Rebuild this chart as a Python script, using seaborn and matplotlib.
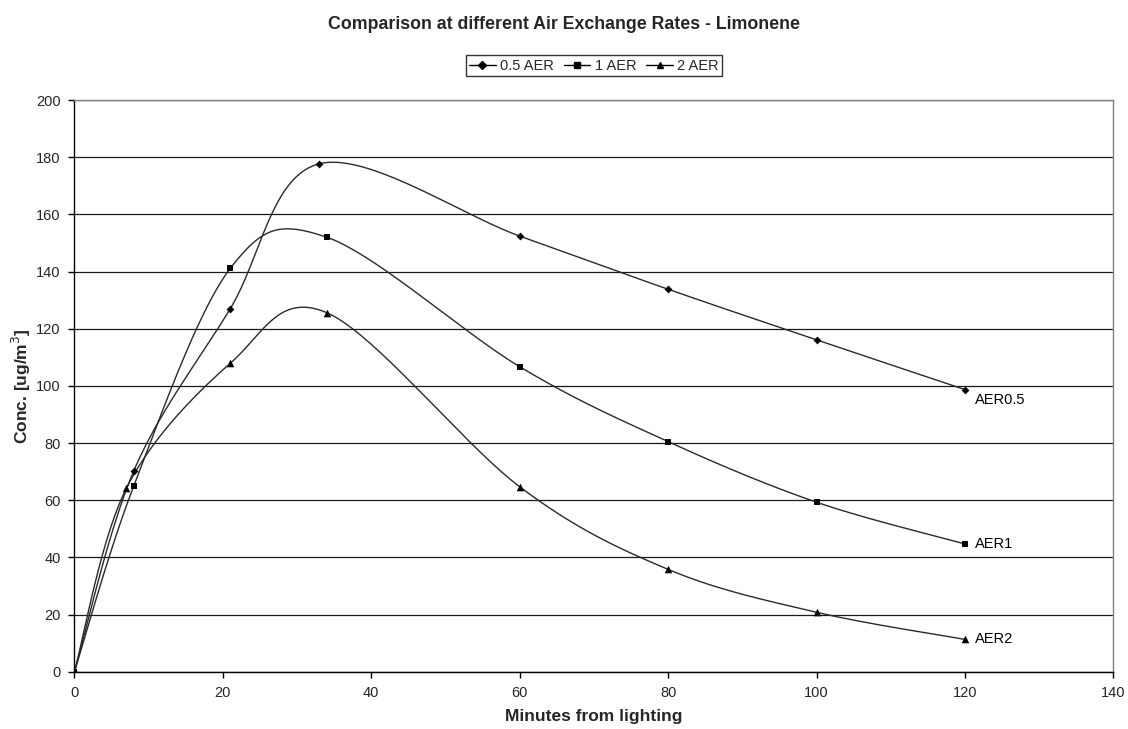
import numpy as np
import pandas as pd
import matplotlib
matplotlib.use("Agg")
import matplotlib.pyplot as plt
import seaborn as sns

# ---- data ----
x_05 = [0, 8, 21, 33, 60, 80, 100, 120]
y_05 = [0, 70.3, 127.0, 177.7, 152.4, 133.8, 116.1, 98.7]
x_1 = [0, 8, 21, 34, 60, 80, 100, 120]
y_1 = [0, 65.0, 141.1, 152.0, 106.7, 80.5, 59.3, 44.7]
x_2 = [0, 7, 21, 34, 60, 80, 100, 120]
y_2 = [0, 64.2, 107.9, 125.6, 64.7, 35.8, 20.8, 11.3]
series_names = ["0.5 AER", "1 AER", "2 AER"]
end_labels = ["AER0.5", "AER1", "AER2"]
title = "Comparison at different Air Exchange Rates - Limonene"
xlabel = "Minutes from lighting"
ylabel = "Conc. [ug/m$^3$]"

sns.set_theme(style="white")
plt.rcParams['font.family'] = ['Liberation Sans', 'DejaVu Sans']


def excel_smooth(xs, ys, n=40):
    P = np.column_stack([xs, ys]).astype(float)
    m = len(P)
    out = [P[0]]
    t = np.linspace(0, 1, n)[1:, None]
    for i in range(m - 1):
        p0 = P[i - 1] if i > 0 else P[i]
        p3 = P[i + 2] if i + 2 < m else P[i + 1]
        a, d = P[i], P[i + 1]
        b = a + (d - p0) / 6.0
        c = d - (p3 - a) / 6.0
        seg = ((1 - t) ** 3) * a + 3 * ((1 - t) ** 2) * t * b + 3 * (1 - t) * t ** 2 * c + t ** 3 * d
        out.extend(seg)
    out = np.array(out)
    return out[:, 0], out[:, 1]


fig = plt.figure(figsize=(11.28, 7.29), dpi=100)
ax = fig.add_axes([0.066, 0.0786, 0.921, 0.7842])

markers = ["D", "s", "^"]
msizes = [16, 22, 30]
data = [(x_05, y_05), (x_1, y_1), (x_2, y_2)]
handles = []
for (xs, ys), name, mk, ms in zip(data, series_names, markers, msizes):
    sx, sy = excel_smooth(xs, ys)
    smooth_df = pd.DataFrame({"x": sx, "y": sy})
    sns.lineplot(data=smooth_df, x="x", y="y", ax=ax, sort=False, estimator=None,
                 color="#2a2a2a", lw=1.0, zorder=3)
    pts = pd.DataFrame({"x": xs, "y": ys})
    sns.scatterplot(data=pts, x="x", y="y", ax=ax, marker=mk, s=ms,
                    color="black", edgecolor="black", linewidth=0, zorder=4)
    handles.append(plt.Line2D([], [], color="black", lw=1.0, marker=mk,
                              markersize=4.5 if mk != "D" else 3.8, label=name))

for (xs, ys), lab in zip(data, end_labels):
    ax.text(xs[-1] + 1.4, ys[-1] - (3.8 if lab == "AER0.5" else 0), lab,
            ha="left", va="center", fontsize=10.5, color="black")

ax.set_xlim(0, 140)
ax.set_ylim(0, 200)
ax.set_xticks(np.arange(0, 141, 20))
ax.set_yticks(np.arange(0, 201, 20))
ax.yaxis.grid(True, color="#1a1a1a", lw=0.9)
ax.xaxis.grid(False)
ax.set_axisbelow(True)
ax.tick_params(axis="both", which="major", labelsize=10.5, length=4, width=1,
               color="black", direction="out", bottom=True, left=True, pad=6)
for s in ["left", "bottom"]:
    ax.spines[s].set_color("black")
    ax.spines[s].set_linewidth(1)
for s in ["top", "right"]:
    ax.spines[s].set_color("#808080")
    ax.spines[s].set_linewidth(1)
ax.set_xlabel(xlabel, fontsize=12.5, fontweight="bold", labelpad=7)
ax.set_ylabel(ylabel, fontsize=12.5, fontweight="bold", labelpad=2)

fig.text(0.5, 0.966, title, ha="center", va="center", fontsize=12.8, fontweight="bold")
leg = fig.legend(handles=handles, loc="center", bbox_to_anchor=(594 / 1128, 1 - 65.7 / 729),
                 ncol=3, frameon=True, fontsize=10.5, handlelength=1.8, handletextpad=0.3,
                 columnspacing=0.7, borderpad=0.25, fancybox=False)
leg.get_frame().set_edgecolor("black")
leg.get_frame().set_linewidth(1)

fig.savefig("out.png", dpi=100)
